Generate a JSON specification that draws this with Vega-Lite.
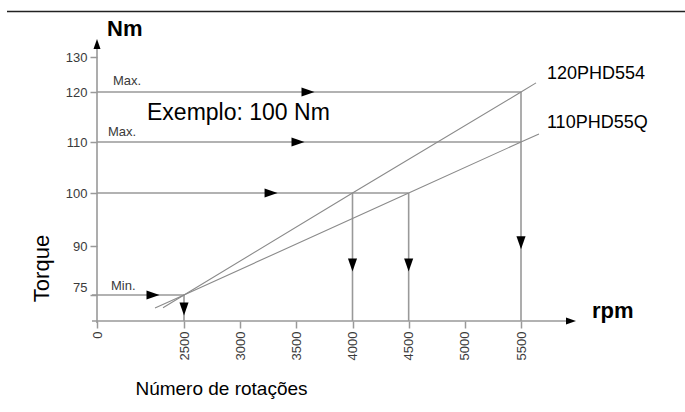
{
  "$schema": "https://vega.github.io/schema/vega-lite/v6.json",
  "width": 588,
  "height": 281,
  "autosize": "none",
  "padding": {"left": 97, "top": 40, "right": 0, "bottom": 91},
  "background": "white",
  "config": {"view": {"stroke": null}, "font": "Liberation Sans"},
  "datasets": {
    "guides": [
      {"x": 0, "x2": 5500, "y": 120, "y2": 120},
      {"x": 0, "x2": 5500, "y": 110, "y2": 110},
      {"x": 0, "x2": 4500, "y": 100, "y2": 100},
      {"x": -144, "x2": 2500, "y": 75, "y2": 75},
      {"x": 5500, "x2": 5500, "y": 120, "y2": 67},
      {"x": 4000, "x2": 4000, "y": 100, "y2": 67},
      {"x": 4500, "x2": 4500, "y": 100, "y2": 67},
      {"x": 2500, "x2": 2500, "y": 75, "y2": 67},
      {"x": 0, "x2": 0, "y": 66.4, "y2": 133},
      {"x": -144, "x2": 5945, "y": 67, "y2": 67}
    ],
    "border": [{"x": -2586, "x2": 6960, "y": 143.0, "y2": 143.0}],
    "curves": [
      {"motor": "120PHD554", "rpm": 1897, "torque": 71.1},
      {"motor": "120PHD554", "rpm": 2500, "torque": 75},
      {"motor": "120PHD554", "rpm": 4000, "torque": 100},
      {"motor": "120PHD554", "rpm": 5500, "torque": 120},
      {"motor": "120PHD554", "rpm": 5634, "torque": 122.6},
      {"motor": "110PHD55Q", "rpm": 1667, "torque": 71.0},
      {"motor": "110PHD55Q", "rpm": 2500, "torque": 75},
      {"motor": "110PHD55Q", "rpm": 4500, "torque": 100},
      {"motor": "110PHD55Q", "rpm": 5500, "torque": 110},
      {"motor": "110PHD55Q", "rpm": 5660, "torque": 111.6}
    ],
    "arrows": [
      {"rpm": 3604, "torque": 120, "dir": "right"},
      {"rpm": 3515, "torque": 110, "dir": "right"},
      {"rpm": 3275, "torque": 100, "dir": "right"},
      {"rpm": 1609, "torque": 75, "dir": "right"},
      {"rpm": 2500, "torque": 70.7, "dir": "down"},
      {"rpm": 4000, "torque": 84.2, "dir": "down"},
      {"rpm": 4500, "torque": 84.2, "dir": "down"},
      {"rpm": 5500, "torque": 90.6, "dir": "down"}
    ],
    "axisArrows": [
      {"rpm": 0, "torque": 133.7, "dir": "up"},
      {"rpm": 5945, "torque": 67, "dir": "right"}
    ],
    "notes": [
      {"rpm": 460, "torque": 123.1, "text": "Max."},
      {"rpm": 316, "torque": 112, "text": "Max."},
      {"rpm": 402, "torque": 77.8, "text": "Min."}
    ],
    "example": [{"rpm": 1437, "torque": 115.8, "text": "Exemplo: 100 Nm"}],
    "series": [
      {"rpm": 5731, "torque": 125.1, "text": "120PHD554"},
      {"rpm": 5731, "torque": 113.8, "text": "110PHD55Q"}
    ],
    "units": [
      {"rpm": 287, "torque": 138.1, "text": "Nm"},
      {"rpm": 6132, "torque": 70.1, "text": "rpm"}
    ]
  },
  "layer": [
    {
      "data": {"name": "guides"},
      "mark": {"type": "rule", "color": "#999999", "strokeWidth": 1.6},
      "encoding": {
        "x": {
          "field": "x", "type": "quantitative",
          "scale": {"domain": [0, 2500, 5500], "range": [0, 87, 424], "zero": false, "nice": false},
          "axis": {
            "values": [0, 2500, 3000, 3500, 4000, 4500, 5000, 5500, 5800],
            "format": "d",
            "labelExpr": "datum.value == 5800 ? '' : datum.label",
            "labelAngle": 270,
            "labelFontSize": 13,
            "labelColor": "#3a3a3a",
            "labelPadding": 3,
            "tickSize": 7,
            "tickColor": "#999999",
            "tickWidth": 1.5,
            "domain": false,
            "grid": false,
            "title": "Número de rotações",
            "titleFontSize": 19,
            "titleFontWeight": "normal",
            "titleColor": "#000000",
            "titleX": 124,
            "titleY": 67,
            "titleAlign": "center",
            "titleBaseline": "middle"
          }
        },
        "x2": {"field": "x2"},
        "y": {
          "field": "y", "type": "quantitative",
          "scale": {"domain": [67, 75, 90, 100, 110, 120, 130], "range": [281, 255, 206, 153, 102, 52, 17], "zero": false, "nice": false},
          "axis": {
            "values": [75, 90, 100, 110, 120, 130],
            "labelFontSize": 13,
            "labelColor": "#3a3a3a",
            "labelPadding": 3,
            "labelOffset": {"condition": {"test": "datum.value === 75", "value": -8}, "value": 0},
            "tickSize": 7,
            "tickColor": "#999999",
            "tickWidth": 1.5,
            "domain": false,
            "grid": false,
            "title": "Torque",
            "titleFontSize": 22,
            "titleFontWeight": "normal",
            "titleColor": "#000000",
            "titleAngle": -90,
            "titleX": -56,
            "titleY": 228,
            "titleAlign": "center",
            "titleBaseline": "middle"
          }
        },
        "y2": {"field": "y2"}
      }
    },
    {
      "data": {"name": "border"},
      "mark": {"type": "rule", "color": "#222222", "strokeWidth": 1.5},
      "encoding": {
        "x": {"field": "x", "type": "quantitative"},
        "x2": {"field": "x2"},
        "y": {"field": "y", "type": "quantitative"},
        "y2": {"field": "y2"}
      }
    },
    {
      "data": {"name": "curves"},
      "mark": {"type": "line", "color": "#8a8a8a", "strokeWidth": 1.1},
      "encoding": {
        "x": {"field": "rpm", "type": "quantitative"},
        "y": {"field": "torque", "type": "quantitative"},
        "detail": {"field": "motor"},
        "order": {"field": "rpm", "type": "quantitative"}
      }
    },
    {
      "data": {"name": "arrows"},
      "mark": {"type": "point", "filled": true, "color": "#000000", "opacity": 1, "size": 169},
      "encoding": {
        "x": {"field": "rpm", "type": "quantitative"},
        "y": {"field": "torque", "type": "quantitative"},
        "shape": {
          "field": "dir", "type": "nominal", "legend": null,
          "scale": {"domain": ["right", "down", "up"], "range": ["M-1,-0.7L1,0L-1,0.7Z", "M-0.7,-1L0,1L0.7,-1Z", "M-0.7,1L0,-1L0.7,1Z"]}
        }
      }
    },
    {
      "data": {"name": "axisArrows"},
      "mark": {"type": "point", "filled": true, "color": "#000000", "opacity": 1, "size": 100},
      "encoding": {
        "x": {"field": "rpm", "type": "quantitative"},
        "y": {"field": "torque", "type": "quantitative"},
        "shape": {
          "field": "dir", "type": "nominal", "legend": null,
          "scale": {"domain": ["right", "up"], "range": ["M-1.2,-0.5L1.2,0L-1.2,0.5Z", "M-0.55,0.8L0,-0.8L0.55,0.8Z"]}
        }
      }
    },
    {
      "data": {"name": "notes"},
      "mark": {"type": "text", "align": "left", "baseline": "middle", "fontSize": 13, "color": "#3a3a3a"},
      "encoding": {
        "x": {"field": "rpm", "type": "quantitative"},
        "y": {"field": "torque", "type": "quantitative"},
        "text": {"field": "text"}
      }
    },
    {
      "data": {"name": "example"},
      "mark": {"type": "text", "align": "left", "baseline": "middle", "fontSize": 23, "color": "#000000"},
      "encoding": {
        "x": {"field": "rpm", "type": "quantitative"},
        "y": {"field": "torque", "type": "quantitative"},
        "text": {"field": "text"}
      }
    },
    {
      "data": {"name": "series"},
      "mark": {"type": "text", "align": "left", "baseline": "middle", "fontSize": 18, "color": "#000000"},
      "encoding": {
        "x": {"field": "rpm", "type": "quantitative"},
        "y": {"field": "torque", "type": "quantitative"},
        "text": {"field": "text"}
      }
    },
    {
      "data": {"name": "units"},
      "mark": {"type": "text", "align": "left", "baseline": "middle", "fontSize": 22, "fontWeight": "bold", "color": "#000000"},
      "encoding": {
        "x": {"field": "rpm", "type": "quantitative"},
        "y": {"field": "torque", "type": "quantitative"},
        "text": {"field": "text"}
      }
    }
  ]
}
